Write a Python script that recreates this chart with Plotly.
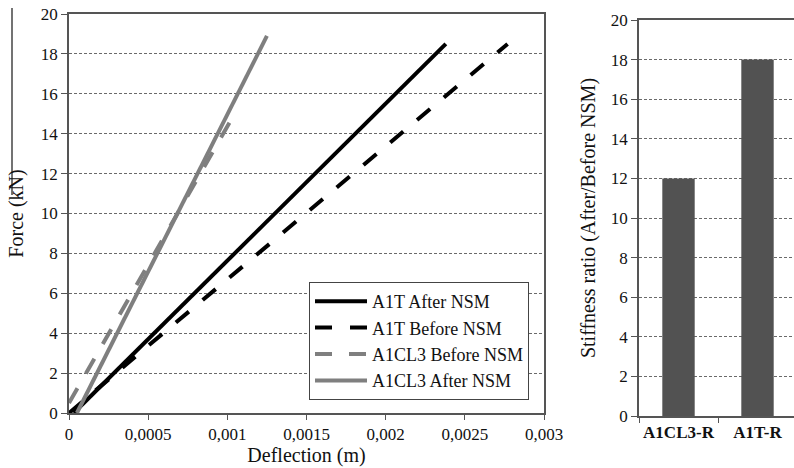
import plotly.graph_objects as go

# ---- data ----
a1t_after_x = [0.00003, 0.00238]
a1t_after_y = [0.0, 18.5]
a1t_before_x = [0.0, 0.00049, 0.00277]
a1t_before_y = [0.0, 3.3, 18.5]
a1cl3_before_x = [0.0, 0.00106]
a1cl3_before_y = [0.5, 15.2]
a1cl3_after_x = [0.00005, 0.00125]
a1cl3_after_y = [0.0, 18.9]

x_tickvals = [0, 0.0005, 0.001, 0.0015, 0.002, 0.0025, 0.003]
x_ticktext = ["0", "0,0005", "0,001", "0,0015", "0,002", "0,0025", "0,003"]
y_ticks = list(range(0, 21, 2))

bar_cats = ["A1CL3-R", "A1T-R"]
bar_vals = [12, 18]

FONT = "'Liberation Serif', 'Times New Roman', serif"
BLACK = "#000000"
GRAY = "#7f7f7f"
AX = "#555555"
TXT = "#111111"

fig = go.Figure()
fig.add_trace(go.Scatter(x=a1t_after_x, y=a1t_after_y, mode="lines", name="A1T After NSM",
                         line=dict(color=BLACK, width=4)))
fig.add_trace(go.Scatter(x=a1t_before_x, y=a1t_before_y, mode="lines", name="A1T Before NSM",
                         line=dict(color=BLACK, width=4, dash="17px,18px")))
fig.add_trace(go.Scatter(x=a1cl3_before_x, y=a1cl3_before_y, mode="lines", name="A1CL3 Before NSM",
                         line=dict(color=GRAY, width=4, dash="17px,17px")))
fig.add_trace(go.Scatter(x=a1cl3_after_x, y=a1cl3_after_y, mode="lines", name="A1CL3 After NSM",
                         line=dict(color=GRAY, width=4)))

fig.add_trace(go.Bar(x=bar_cats, y=bar_vals, xaxis="x2", yaxis="y2", showlegend=False,
                     marker=dict(color="#525252", line=dict(width=0)), width=0.41))

grid = dict(showgrid=True, gridcolor="#6a6a6a", griddash="3px,2px", gridwidth=1)

fig.update_layout(
    width=794, height=468,
    margin=dict(l=0, r=0, t=0, b=0, autoexpand=False),
    paper_bgcolor="white", plot_bgcolor="white",
    font=dict(family=FONT, size=17, color=TXT),
    showlegend=True,
    legend=dict(x=309 / 794, y=1 - 282 / 468, xanchor="left", yanchor="top",
                bgcolor="white", bordercolor="#444444", borderwidth=1,
                font=dict(family=FONT, size=18, color=TXT),
                tracegroupgap=0, itemwidth=52),
    xaxis=dict(domain=[69 / 794, 544 / 794], range=[0, 0.003], automargin=False,
               tickvals=x_tickvals, ticktext=x_ticktext,
               ticks="outside", ticklen=5, tickcolor=AX,
               showline=True, linecolor=AX, linewidth=1.5, mirror=True,
               showgrid=False, zeroline=False,
               title=dict(text="Deflection (m)", font=dict(family=FONT, size=20), standoff=4),
               tickfont=dict(family=FONT, size=17)),
    yaxis=dict(domain=[(468 - 413) / 468, (468 - 14) / 468], range=[0, 20], automargin=False,
               tickvals=y_ticks, ticks="outside", ticklen=6, tickcolor=AX,
               showline=True, linecolor=AX, linewidth=1.5, mirror=True,
               zeroline=False, **grid,
               title=dict(text="Force (kN)", font=dict(family=FONT, size=20), standoff=12),
               tickfont=dict(family=FONT, size=17)),
    xaxis2=dict(domain=[639 / 794, 1.0], anchor="y2", type="category", automargin=False,
                range=[-0.5, 1.462], tickson="boundaries", tickangle=0,
                ticks="outside", ticklen=5, tickcolor=AX,
                showline=True, linecolor=AX, linewidth=1.5, mirror=True,
                showgrid=False, zeroline=False,
                tickfont=dict(family=FONT, size=17, color=TXT, weight="bold")),
    yaxis2=dict(domain=[(468 - 416) / 468, (468 - 20) / 468], anchor="x2", range=[0, 20],
                automargin=False,
                tickvals=y_ticks, ticks="outside", ticklen=6, tickcolor=AX,
                showline=True, linecolor=AX, linewidth=1.5,
                zeroline=False, **grid,
                title=dict(text="Stiffness ratio (After/Before NSM)",
                           font=dict(family=FONT, size=20), standoff=10),
                tickfont=dict(family=FONT, size=17)),
    bargap=0.59,
)

# scan artifact: vertical rule left of the Force title
fig.add_shape(type="line", xref="paper", yref="paper",
              x0=12 / 794, x1=12 / 794, y0=1 - 8 / 468, y1=1 - 195 / 468,
              line=dict(color="#444444", width=1.5))

fig.write_html("out.html")
